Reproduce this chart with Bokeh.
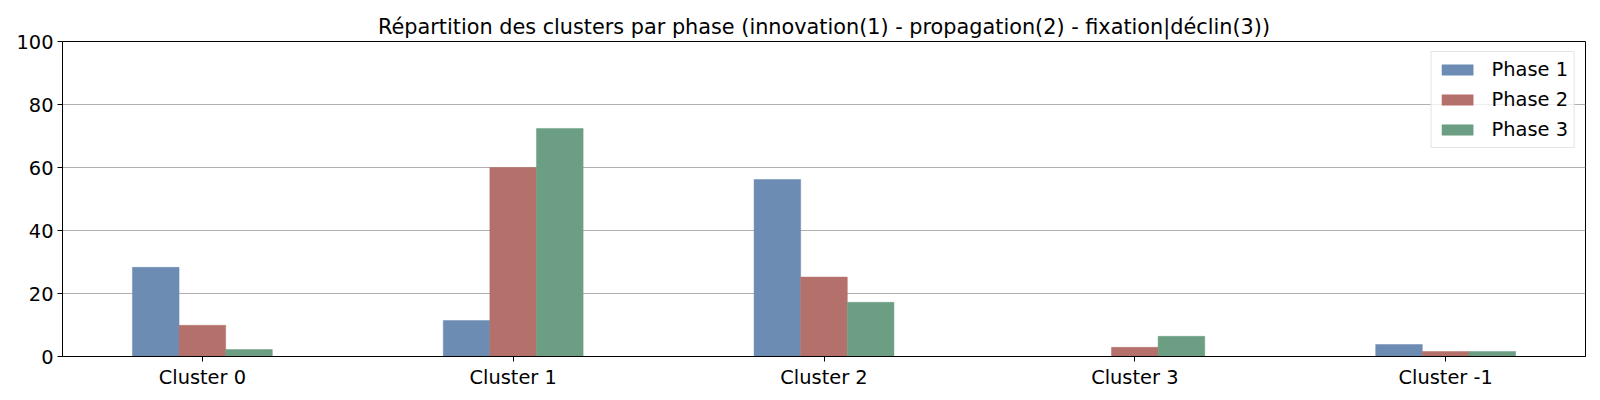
from bokeh.plotting import figure
from bokeh.models import ColumnDataSource, FactorRange, Range1d, Legend, LegendItem, FixedTicker
from bokeh.transform import dodge
from bokeh.embed import file_html
from bokeh.resources import INLINE

clusters = ["Cluster 0", "Cluster 1", "Cluster 2", "Cluster 3", "Cluster -1"]
phase1 = [28.3, 11.4, 56.2, 0.0, 3.8]
phase2 = [9.9, 60.0, 25.2, 2.9, 1.6]
phase3 = [2.2, 72.4, 17.2, 6.4, 1.6]
series_names = ["Phase 1", "Phase 2", "Phase 3"]
colors = ["#6c8cb3", "#b4706b", "#6b9e83"]
y_ticks = [0, 20, 40, 60, 80, 100]

FONT = "DejaVu Sans"
FS = "19.4px"

source = ColumnDataSource(data=dict(cluster=clusters, p1=phase1, p2=phase2, p3=phase3))

p = figure(
    width=1600, height=400,
    x_range=FactorRange(factors=clusters, range_padding=-0.05, range_padding_units="absolute"),
    y_range=Range1d(0, 100),
    output_backend="svg", toolbar_location=None,
    title="Répartition des clusters par phase (innovation(1) - propagation(2) - fixation|déclin(3))",
    min_border_left=62, min_border_right=15, min_border_top=41, min_border_bottom=44,
)

bw = 0.15
renderers = []
for i, (col, name, c) in enumerate(zip(["p1", "p2", "p3"], series_names, colors)):
    r = p.vbar(x=dodge("cluster", (i - 1) * bw, range=p.x_range), top=col, width=bw,
               bottom=0, source=source, fill_color=c, line_color=c, line_width=0.5)
    renderers.append((name, r))

legend = Legend(items=[LegendItem(label=n, renderers=[r]) for n, r in renderers],
                location="top_right")
legend.label_text_font = FONT
legend.label_text_font_size = FS
legend.label_text_color = "black"
legend.glyph_width = 39
legend.glyph_height = 13
legend.label_height = 22
legend.label_standoff = 15
legend.spacing = 7
legend.padding = 6
legend.margin = 10
legend.border_line_color = "#cccccc"
legend.border_line_width = 1
legend.background_fill_alpha = 0.8
p.add_layout(legend, "center")

p.title.text_font = FONT
p.title.text_font_size = "20.8px"
p.title.text_font_style = "normal"
p.title.text_color = "black"
p.title.align = "center"
p.title.standoff = 6

p.outline_line_color = "black"
p.outline_line_width = 1
p.outline_line_alpha = 1

p.xgrid.grid_line_color = None
p.ygrid.grid_line_color = "#b0b0b0"
p.ygrid.grid_line_width = 1

p.yaxis.ticker = FixedTicker(ticks=y_ticks)
for ax in (p.xaxis[0], p.yaxis[0]):
    ax.major_label_text_font = FONT
    ax.major_label_text_font_size = FS
    ax.major_label_text_color = "black"
    ax.axis_line_color = "black"
    ax.major_tick_line_color = "black"
    ax.major_tick_out = 5
    ax.major_tick_in = 0
    ax.minor_tick_line_color = None
    ax.major_label_standoff = 4
p.xaxis.group_text_font_size = FS

open("out.html", "w").write(file_html(p, INLINE))
